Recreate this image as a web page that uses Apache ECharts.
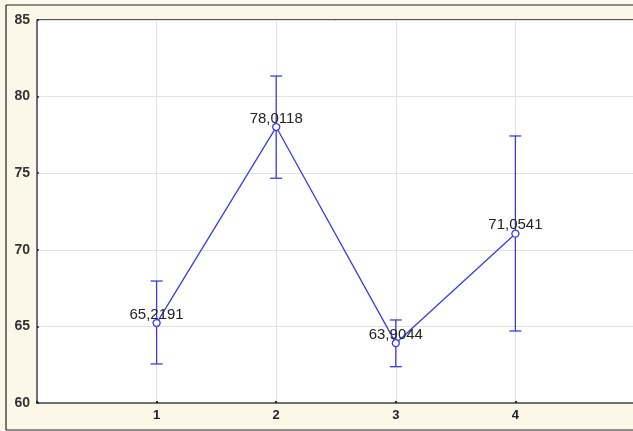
<!DOCTYPE html>
<html><head><meta charset="utf-8">
<script src="https://cdn.jsdelivr.net/npm/echarts@6/dist/echarts.min.js"></script>
<style>html,body{margin:0;padding:0;background:#fdf7ea}#c{width:633px;height:431px}</style>
</head><body><div id="c"></div>
<script>
var categories = [1, 2, 3, 4];
var means = [65.2191, 78.0118, 63.9044, 71.0541];
var upper = [67.96, 81.34, 65.42, 77.43];
var lower = [62.55, 74.67, 62.37, 64.7];
var yTicks = [60, 65, 70, 75, 80, 85];

var blue = '#3b3be6';
var chart = echarts.init(document.getElementById('c'), null, {renderer: 'canvas'});
var lineData = categories.map(function (c, i) { return [c, means[i]]; });
var errData = categories.map(function (c, i) { return [c, lower[i], upper[i]]; });

chart.setOption({
  backgroundColor: '#fdf7ea',
  animation: false,
  grid: {left: 37, top: 20, width: 598, bottom: 28, outerBoundsMode: 'none', containLabel: false,
         show: true, backgroundColor: '#ffffff', borderWidth: 0},
  graphic: [
    {type: 'line', shape: {x1: 6, y1: 5, x2: 633, y2: 5}, style: {stroke: '#222', lineWidth: 1.2}},
    {type: 'line', shape: {x1: 6, y1: 5, x2: 6, y2: 430}, style: {stroke: '#222', lineWidth: 1.2}},
    {type: 'line', shape: {x1: 6, y1: 430, x2: 633, y2: 430}, style: {stroke: '#222', lineWidth: 1.2}},
    {type: 'line', shape: {x1: 37, y1: 20, x2: 633, y2: 20}, style: {stroke: '#555', lineWidth: 2}}
  ],
  xAxis: {
    type: 'value', min: 0, max: 5, interval: 1,
    axisLine: {show: true, onZero: false, lineStyle: {color: '#444', width: 1.5}},
    axisTick: {show: true, length: 2, inside: true, lineStyle: {color: '#222', width: 2}},
    splitLine: {show: true, lineStyle: {color: '#e2e2e2', width: 1}},
    axisLabel: {
      color: '#222', fontSize: 13, fontWeight: 'bold', fontFamily: 'Liberation Sans, Arial', margin: 6,
      formatter: function (v) { return categories.indexOf(v) >= 0 ? String(v) : ''; }
    }
  },
  yAxis: {
    type: 'value', min: yTicks[0], max: yTicks[yTicks.length - 1], interval: 5,
    axisLine: {show: true, lineStyle: {color: '#444', width: 1.5}},
    axisTick: {show: true, length: 2, inside: true, lineStyle: {color: '#222', width: 1.5}},
    splitLine: {show: true, lineStyle: {color: '#e2e2e2', width: 1}},
    axisLabel: {color: '#333', fontSize: 14, fontWeight: 'bold', fontFamily: 'Liberation Sans, Arial', margin: 7}
  },
  series: [
    {
      type: 'custom', z: 3,
      renderItem: function (params, api) {
        var x = api.value(0);
        var lo = api.coord([x, api.value(1)]);
        var hi = api.coord([x, api.value(2)]);
        var hw = 6;
        var st = {stroke: blue, lineWidth: 1.3, fill: null};
        return {type: 'group', children: [
          {type: 'line', shape: {x1: lo[0], y1: lo[1], x2: hi[0], y2: hi[1]}, style: st},
          {type: 'line', shape: {x1: lo[0] - hw, y1: lo[1], x2: lo[0] + hw, y2: lo[1]}, style: st},
          {type: 'line', shape: {x1: hi[0] - hw, y1: hi[1], x2: hi[0] + hw, y2: hi[1]}, style: st}
        ]};
      },
      encode: {x: 0, y: [1, 2]},
      data: errData
    },
    {
      type: 'line', z: 4,
      data: lineData,
      symbol: 'circle', symbolSize: 7, showAllSymbol: true,
      lineStyle: {color: blue, width: 1.3},
      itemStyle: {color: '#ffffff', borderColor: blue, borderWidth: 1.3},
      label: {
        show: true, position: 'top', distance: -3,
        color: '#222', fontSize: 15, fontFamily: 'Liberation Sans, Arial',
        formatter: function (p) { return p.value[1].toFixed(4).replace('.', ','); }
      }
    }
  ]
});
</script></body></html>
